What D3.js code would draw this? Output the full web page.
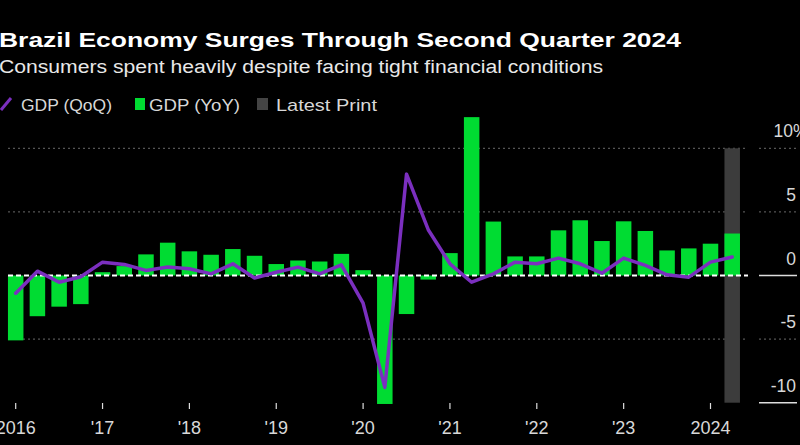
<!DOCTYPE html>
<html>
<head>
<meta charset="utf-8">
<script src="https://cdn.jsdelivr.net/npm/d3@7"></script>
<style>
  html, body { margin: 0; padding: 0; background: #000; }
  svg { display: block; }
  text { font-family: "Liberation Sans", Arial, sans-serif; }
</style>
</head>
<body>
<svg id="chart" width="800" height="445"></svg>
<script>
// ---- Data ----
const quarters = [
  "2016Q1","2016Q2","2016Q3","2016Q4",
  "2017Q1","2017Q2","2017Q3","2017Q4",
  "2018Q1","2018Q2","2018Q3","2018Q4",
  "2019Q1","2019Q2","2019Q3","2019Q4",
  "2020Q1","2020Q2","2020Q3","2020Q4",
  "2021Q1","2021Q2","2021Q3","2021Q4",
  "2022Q1","2022Q2","2022Q3","2022Q4",
  "2023Q1","2023Q2","2023Q3","2023Q4",
  "2024Q1","2024Q2"
];
const gdpYoY = [
  -5.1, -3.2, -2.45, -2.25,
  0.26, 0.74, 1.66, 2.58,
  1.9, 1.63, 2.08, 1.55,
  0.9, 1.18, 1.1, 1.7,
  0.42, -10.1, -3.03, -0.32,
  1.76, 12.45, 4.24, 1.5,
  1.5, 3.55, 4.34, 2.71,
  4.26, 3.5, 1.97, 2.13,
  2.5, 3.3
];
const gdpQoQ = [
  -1.39, 0.34, -0.53, -0.1,
  1.05, 0.87, 0.4, 0.66,
  0.53, 0.13, 0.92, -0.2,
  0.26, 0.66, 0.13, 0.84,
  -2.18, -8.8, 7.97, 3.6,
  0.92, -0.53, 0.13, 1.05,
  0.92, 1.37, 0.92, 0.18,
  1.37, 0.79, 0.05, -0.13,
  1.05, 1.45
];
const latestPrint = "2024Q2";
const yTicks = [-10, -5, 0, 5, 10];
const xTickYears = [2016, 2017, 2018, 2019, 2020, 2021, 2022, 2023, 2024];
const xTickLabels = ["2016", "'17", "'18", "'19", "'20", "'21", "'22", "'23", "2024"];

const title = "Brazil Economy Surges Through Second Quarter 2024";
const subtitle = "Consumers spent heavily despite facing tight financial conditions";

// ---- Setup ----
const svg = d3.select("#chart");
const W = 800, H = 445;
svg.append("rect").attr("width", W).attr("height", H).attr("fill", "#000");

const GREEN = "#00dc32", PURPLE = "#7b2fbf", GREY = "#3c3c3c";

const toYear = q => +q.slice(0, 4) + (+q.slice(5) - 1) / 4;

const x = d3.scaleLinear().domain([2016, 2024.5]).range([15.7, 15.7 + 8.5 * 86.85]);
const y = d3.scaleLinear().domain([-10, 10]).range([402.7, 148.3]);
const barW = 15.5;
const plotL = 8, plotR = 748, axL = 759, axR = 797;

const data = quarters.map((q, i) => ({ q, t: toYear(q), yoy: gdpYoY[i], qoq: gdpQoQ[i] }));

// Gridlines
const grid = svg.append("g");
yTicks.filter(v => v !== 0 && v !== -10).forEach(v => {
  grid.append("line").attr("x1", plotL).attr("x2", plotR)
    .attr("y1", y(v)).attr("y2", y(v))
    .attr("stroke", "#6a6a6a").attr("stroke-width", 1).attr("stroke-dasharray", "2,3");
});

// Right axis
const ax = svg.append("g");
yTicks.forEach(v => {
  const solid = (v === 0 || v === -10);
  ax.append("line").attr("x1", axL).attr("x2", axR).attr("y1", y(v)).attr("y2", y(v))
    .attr("stroke", solid ? "#dddddd" : "#6a6a6a")
    .attr("stroke-width", solid ? 1.5 : 1)
    .attr("stroke-dasharray", solid ? null : "2,3");
  const t = ax.append("text").attr("y", y(v) - 11).attr("fill", "#d8d8d8")
    .attr("font-size", 17.5).attr("text-anchor", "end");
  if (v === 10) {
    t.attr("x", 793).text("10");
    ax.append("text").attr("x", 793).attr("y", y(v) - 11).attr("fill", "#d8d8d8")
      .attr("font-size", 17.5).text("%");
  } else {
    t.attr("x", 796).text(String(v));
  }
});

// Latest print shading
const lp = data.find(d => d.q === latestPrint);
svg.append("rect").attr("x", x(lp.t) - barW / 2).attr("width", barW)
  .attr("y", y(10)).attr("height", y(-10) - y(10)).attr("fill", GREY);

// Bars
svg.append("g").selectAll("rect").data(data).join("rect")
  .attr("x", d => x(d.t) - barW / 2).attr("width", barW)
  .attr("y", d => y(Math.max(0, d.yoy)))
  .attr("height", d => Math.abs(y(d.yoy) - y(0)))
  .attr("fill", GREEN);

// Zero line (dashed, within plot)
svg.append("line").attr("x1", plotL).attr("x2", plotR).attr("y1", y(0)).attr("y2", y(0))
  .attr("stroke", "#ffffff").attr("stroke-width", 2).attr("stroke-dasharray", "5,3");

// QoQ line
svg.append("path").datum(data)
  .attr("d", d3.line().x(d => x(d.t)).y(d => y(d.qoq)))
  .attr("fill", "none").attr("stroke", PURPLE).attr("stroke-width", 3.5)
  .attr("stroke-linejoin", "round").attr("stroke-linecap", "round");

// X axis ticks and labels
const xa = svg.append("g");
xTickYears.forEach((yr, i) => {
  xa.append("line").attr("x1", x(yr)).attr("x2", x(yr)).attr("y1", 403).attr("y2", 409)
    .attr("stroke", "#dddddd").attr("stroke-width", 1.2);
  xa.append("text").attr("x", x(yr)).attr("y", 434).attr("text-anchor", "middle")
    .attr("fill", "#d8d8d8").attr("font-size", 18).text(xTickLabels[i]);
});

// Title & subtitle
svg.append("text").attr("x", -1).attr("y", 47).attr("fill", "#ffffff")
  .attr("font-size", 21).attr("font-weight", "bold").text(title)
  .attr("textLength", 682).attr("lengthAdjust", "spacingAndGlyphs");
svg.append("text").attr("x", -1).attr("y", 73).attr("fill", "#e8e8e8")
  .attr("font-size", 18).text(subtitle)
  .attr("textLength", 604).attr("lengthAdjust", "spacingAndGlyphs");

// Legend
const lg = svg.append("g");
lg.append("line").attr("x1", 1).attr("y1", 110).attr("x2", 11).attr("y2", 98)
  .attr("stroke", PURPLE).attr("stroke-width", 3);
lg.append("text").attr("x", 21).attr("y", 111).attr("fill", "#d8d8d8").attr("font-size", 17)
  .text("GDP (QoQ)").attr("textLength", 91).attr("lengthAdjust", "spacingAndGlyphs");
lg.append("rect").attr("x", 135).attr("y", 98).attr("width", 10).attr("height", 12).attr("fill", GREEN);
lg.append("text").attr("x", 149).attr("y", 111).attr("fill", "#d8d8d8").attr("font-size", 17)
  .text("GDP (YoY)").attr("textLength", 91).attr("lengthAdjust", "spacingAndGlyphs");
lg.append("rect").attr("x", 257).attr("y", 98).attr("width", 11).attr("height", 12).attr("fill", "#444");
lg.append("text").attr("x", 276).attr("y", 111).attr("fill", "#d8d8d8").attr("font-size", 17)
  .text("Latest Print").attr("textLength", 101).attr("lengthAdjust", "spacingAndGlyphs");
</script>
</body>
</html>
